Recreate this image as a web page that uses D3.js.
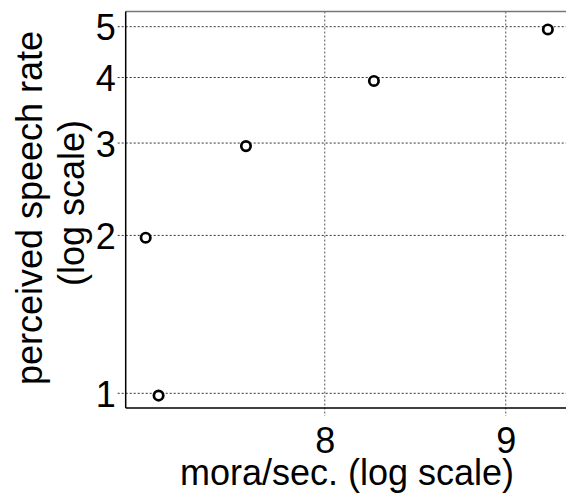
<!DOCTYPE html>
<html>
<head>
<meta charset="utf-8">
<script src="https://cdn.jsdelivr.net/npm/d3@7"></script>
<style>
  body { margin: 0; background: #fff; }
  svg { display: block; font-family: "Liberation Sans", Arial, Helvetica, sans-serif; }
</style>
</head>
<body>
<div id="chart"></div>
<script>
// values
var moraPerSec = [7.18, 7.12, 7.60, 8.26, 9.25];
var perceivedRate = [0.99, 1.98, 2.96, 3.94, 4.94];
var xTicks = [8, 9];
var yTicks = [1, 2, 3, 4, 5];
var xTitle = "mora/sec. (log scale)";
var yTitle = ["perceived speech rate", "(log scale)"];

var width = 566, height = 497;
var plotLeft = 125.7, plotRight = 568, plotTop = 11.5, plotBottom = 408;

var svg = d3.select("#chart").append("svg")
    .attr("width", width)
    .attr("height", height);

var x = d3.scaleLog().domain([7.028, 9.372]).range([plotLeft, plotRight]);
var y = d3.scaleLog().domain([0.9375, 5.345]).range([plotBottom, plotTop]);

// dotted grid, running past the box as ticks
svg.append("g").selectAll("line")
    .data(yTicks).enter().append("line")
    .attr("x1", plotLeft - 8).attr("x2", width)
    .attr("y1", function(d) { return y(d); })
    .attr("y2", function(d) { return y(d); })
    .style("stroke", "#333")
    .style("stroke-width", 1)
    .style("stroke-dasharray", "2,2");

svg.append("g").selectAll("line")
    .data(xTicks).enter().append("line")
    .attr("y1", plotTop).attr("y2", plotBottom + 8)
    .attr("x1", function(d) { return x(d); })
    .attr("x2", function(d) { return x(d); })
    .style("stroke", "#555")
    .style("stroke-width", 1)
    .style("stroke-dasharray", "2,2");

// box (left and bottom black, top lighter)
svg.append("line").attr("x1", plotLeft).attr("x2", width).attr("y1", plotTop).attr("y2", plotTop)
    .style("stroke", "#777").style("stroke-width", 1.5);
svg.append("line").attr("x1", plotLeft).attr("x2", plotLeft).attr("y1", plotTop).attr("y2", plotBottom)
    .style("stroke", "#000").style("stroke-width", 1.5);
svg.append("line").attr("x1", plotLeft).attr("x2", width).attr("y1", plotBottom).attr("y2", plotBottom)
    .style("stroke", "#000").style("stroke-width", 1.5);

// tick labels via axes
var yAxis = svg.append("g")
    .attr("transform", "translate(" + (plotLeft - 10) + ",0)")
    .call(d3.axisLeft(y).tickValues(yTicks).tickSize(0).tickPadding(0).tickFormat(d3.format("d")));
yAxis.select(".domain").remove();
yAxis.selectAll("text").style("font-size", "36px").style("fill", "#000")
    .attr("dy", "0.36em");

var xAxis = svg.append("g")
    .attr("transform", "translate(0," + plotBottom + ")")
    .call(d3.axisBottom(x).tickValues(xTicks).tickSize(0).tickPadding(0).tickFormat(d3.format("d")));
xAxis.select(".domain").remove();
xAxis.selectAll("text").style("font-size", "36px").style("fill", "#000")
    .attr("dy", null).attr("y", 45);

// points
svg.append("g").selectAll("circle")
    .data(moraPerSec).enter().append("circle")
    .attr("cx", function(d) { return x(d); })
    .attr("cy", function(d, i) { return y(perceivedRate[i]); })
    .attr("r", 4.7)
    .style("fill", "#fff")
    .style("stroke", "#000")
    .style("stroke-width", 2.7);

// titles
svg.append("text")
    .attr("x", 347)
    .attr("y", 485)
    .style("text-anchor", "middle")
    .style("font-size", "36px")
    .text(xTitle);

svg.append("text")
    .attr("transform", "translate(42,208) rotate(-90)")
    .style("text-anchor", "middle")
    .style("font-size", "36px")
    .text(yTitle[0]);

svg.append("text")
    .attr("transform", "translate(83.5,203) rotate(-90)")
    .style("text-anchor", "middle")
    .style("font-size", "36px")
    .text(yTitle[1]);
</script>
</body>
</html>
